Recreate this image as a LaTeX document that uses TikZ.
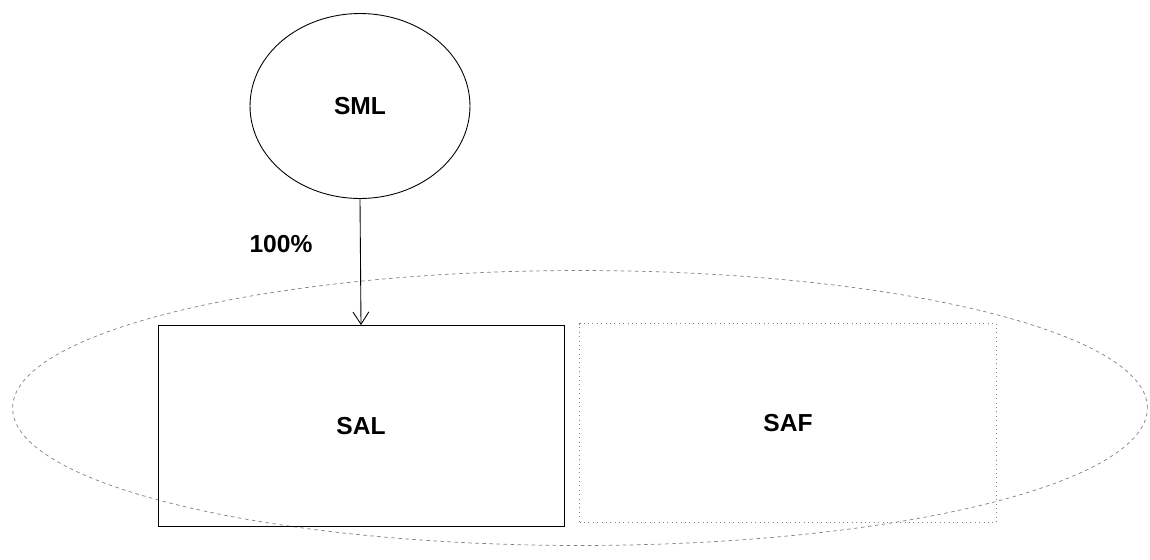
\documentclass[tikz,border=0pt]{standalone}
\usepackage{fontspec}
\setmainfont{Liberation Sans}
\usetikzlibrary{shapes.geometric, arrows.meta}

\begin{document}
\begin{tikzpicture}[x=0.02cm,y=-0.02cm,
  lbl/.style={font=\fontsize{14}{16}\selectfont\bfseries},
  company/.style={draw, line width=0.5pt, lbl},
  grp/.style={draw=gray, dashed, dash pattern=on 2pt off 2pt, line width=0.4pt, ellipse},
  hold/.style={-{Straight Barb[length=7pt,width=9pt]}, line width=0.5pt}]
  \useasboundingbox (0,0) rectangle (1150,559);
  \pgfmathsetmacro{\BoxH}{4.02}

  % group ellipse round the two subsidiaries
  \node[grp, minimum width=22.7cm, minimum height=5.5cm] (group) at (580,408) {};

  \node[company, ellipse, minimum width=4.4cm, minimum height=3.7cm] (sml) at (360,106) {SML};
  \node[company, rectangle, minimum width=8.12cm, minimum height=\BoxH cm] (sal) at (361,426) {SAL};
  \node[company, rectangle, draw=gray, dotted, minimum width=8.34cm, minimum height=3.98cm] (saf) at (788,423) {SAF};

  \draw[hold] (sml.south) -- (sal.north);
  \node[lbl] (share) at (281,244) {100\%};

\end{tikzpicture}
\end{document}
